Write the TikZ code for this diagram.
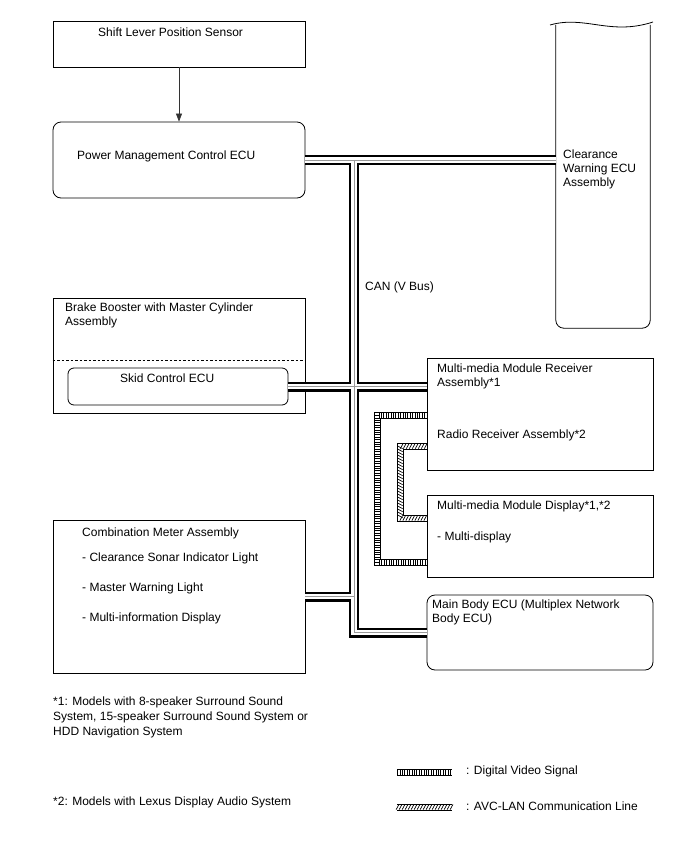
\documentclass[tikz,border=0pt]{standalone}
\usepackage{fontspec}
\setmainfont{Liberation Sans}
\usetikzlibrary{arrows.meta,positioning,calc,decorations.markings}

\tikzset{
  box/.style={draw, line width=0.8pt, inner sep=0pt},
  rbox/.style={box, rounded corners=8pt},
  txt/.style={font=\fontsize{12}{14}\selectfont, inner sep=0pt, anchor=west, align=left},
  canouter/.style={line width=10pt, draw=black},
  caninner/.style={line width=5.5pt, draw=white},
  cancore/.style={line width=1pt, draw=black!40},
  dvline/.style={line width=7pt, draw=black,
    postaction={draw=white, line width=5pt},
    postaction={draw=none, decorate, decoration={markings,
      mark=between positions 0.01 and 1 step 2.4pt with {\draw[line width=0.7pt, black] (0,-2.6pt) -- (0,2.6pt);}}}},
  avcline/.style={line width=7pt, draw=black,
    postaction={draw=white, line width=5pt},
    postaction={draw=none, decorate, decoration={markings,
      mark=between positions 0.01 and 1 step 3pt with {\draw[line width=0.7pt, black] (-1.4pt,-2.6pt) -- (1.4pt,2.6pt);}}}}
}

\begin{document}
\begin{tikzpicture}[x=1pt,y=-1pt]
  \useasboundingbox (0,0) rectangle (688,852);

  % left column
  \node[box, minimum width=252pt, minimum height=46pt] (slps) at (179,44) {};
  \node[rbox, minimum width=252pt, minimum height=76pt] (pmecu) at (179,160) {};
  \node[box, minimum width=252pt, minimum height=115pt] (bbma) at (179,355.5) {};
  \node[box, rounded corners=6pt, minimum width=220pt, minimum height=37pt] (skid) at (178,386.5) {};
  \node[box, minimum width=252pt, minimum height=153pt] (comb) at (179,596.5) {};

  % right column
  \node[inner sep=0pt, minimum width=94pt, minimum height=303pt] (cwecu) at (603,176.5) {};
  \node[box, minimum width=226pt, minimum height=112pt] (mmr) at (540,414) {};
  \node[box, minimum width=226pt, minimum height=82pt] (mmd) at (540,536) {};
  \node[rbox, minimum width=226pt, minimum height=75pt] (mbecu) at (540,632.5) {};

  % clearance warning ECU outline (broken top)
  \draw[line width=0.8pt] (550,25) .. controls (585,15) and (610,36) .. (653,22);
  \draw[line width=0.8pt, rounded corners=8pt] (cwecu.north west) -- (cwecu.south west)
    -- (cwecu.south east) -- (cwecu.north east);

  \draw[dashed, line width=0.8pt, dash pattern=on 2.5pt off 2pt]
    ($(bbma.north west)+(0,63)$) -- ($(bbma.north east)+(0,63)$);

  % texts
  \node[txt] (slpst) at (98,32) {Shift Lever Position Sensor};
  \node[txt] (pmecut) at (77,156) {Power Management Control ECU};
  \node[txt] (cwecut) at (563,169) {Clearance\\Warning ECU\\Assembly};
  \node[txt] (bbmat) at (65,315.5) {Brake Booster with Master Cylinder\\Assembly};
  \node[txt] (skidt) at (120,378) {Skid Control ECU};
  \node[txt] (cant) at (365,287) {CAN (V Bus)};
  \node[txt] (mmrt) at (437,376) {Multi-media Module Receiver\\Assembly*1};
  \node[txt] (radiot) at (437,435) {Radio Receiver Assembly*2};
  \node[txt] (mmdt) at (437,506) {Multi-media Module Display*1,*2};
  \node[txt] (mdispt) at (437,537) {- Multi-display};
  \node[txt] (combt) at (82,533) {Combination Meter Assembly};
  \node[txt] (sonart) at (82,558) {- Clearance Sonar Indicator Light};
  \node[txt] (mwlt) at (82,588) {- Master Warning Light};
  \node[txt] (midt) at (82,618) {- Multi-information Display};
  \node[txt] (mbecut) at (432,612.5) {Main Body ECU (Multiplex Network\\Body ECU)};
  \node[txt, font=\fontsize{12}{15}\selectfont] (fn1) at (53,717)
    {*1: Models with 8-speaker Surround Sound\\System, 15-speaker Surround Sound System or\\HDD Navigation System};
  \node[txt] (fn2) at (53,802) {*2: Models with Lexus Display Audio System};

  \draw[-{Triangle[length=8pt,width=6pt]}, line width=0.7pt, black!80] (slps) -- (pmecu);

  % CAN bus
  \coordinate (trunk) at (354,160);
  \foreach \s in {canouter,caninner,cancore}{
    \draw[\s] (pmecu.east) -- (pmecu.east -| cwecu.west);
    \draw[\s] (trunk) |- (mbecu.west);
    \draw[\s] (skid.east) -- (skid.east -| mmr.west);
    \draw[\s] (comb.east) -- (comb.east -| trunk);
  }

  % digital video and AVC-LAN
  \coordinate (dvin) at (427,415);
  \coordinate (dvout) at (427,562);
  \coordinate (avcin) at (427,446);
  \coordinate (avcout) at (427,518);
  \draw[dvline] (dvin) -- ++(-50,0) |- (dvout);
  \draw[avcline] (avcin) -- ++(-27,0) |- (avcout);

  % legend
  \coordinate (dvkeyA) at (397,772);
  \coordinate (dvkeyB) at (452,772);
  \coordinate (avckeyA) at (397,807);
  \coordinate (avckeyB) at (452,807);
  \draw[dvline] (dvkeyA) -- (dvkeyB);
  \draw[avcline] (avckeyA) -- (avckeyB);
  \node[txt] (dvkeyt) at (466,771) {: Digital Video Signal};
  \node[txt] (avckeyt) at (466,806) {: AVC-LAN Communication Line};
\end{tikzpicture}
\end{document}
